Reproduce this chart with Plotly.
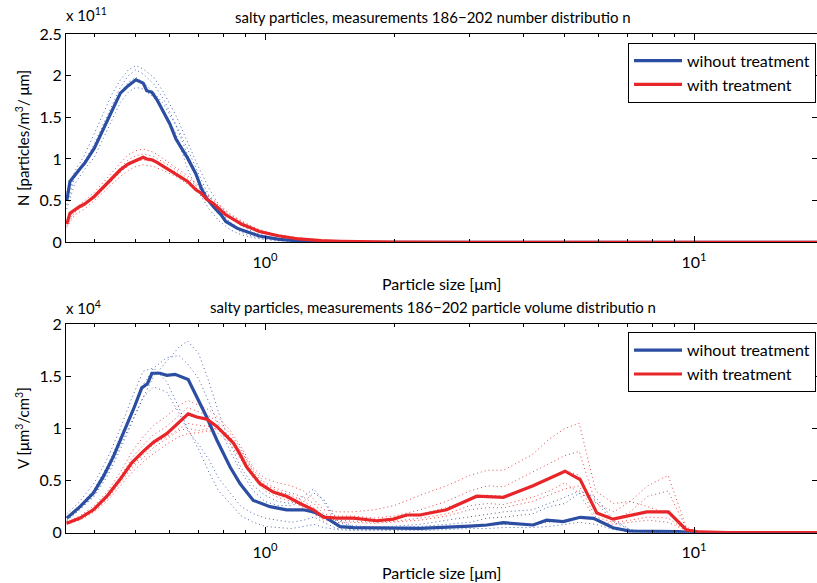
import math
import plotly.graph_objects as go

# ---------------- data ----------------
# Top panel: number distribution (values in units of 1e11 particles/m^3/um)
x_n = [0.345, 0.351, 0.37, 0.38, 0.40, 0.42, 0.44, 0.46, 0.48, 0.50, 0.52, 0.53, 0.545,
       0.56, 0.58, 0.60, 0.62, 0.66, 0.69, 0.71, 0.73, 0.76, 0.79, 0.81, 0.86, 0.88,
       0.97, 1.08, 1.2, 1.35, 1.5, 2, 3, 5, 8, 12, 20]
n_without = [0.50, 0.73, 0.88, 0.95, 1.13, 1.37, 1.58, 1.79, 1.88, 1.95, 1.91, 1.82, 1.80,
             1.71, 1.56, 1.42, 1.24, 1.01, 0.82, 0.65, 0.53, 0.42, 0.33, 0.25, 0.17, 0.15,
             0.076, 0.036, 0.016, 0.004, 0.0, 0, 0, 0, 0, 0, 0]
n_with = [0.22, 0.35, 0.43, 0.46, 0.55, 0.66, 0.76, 0.87, 0.94, 0.98, 1.02, 1.00, 0.99,
          0.96, 0.91, 0.86, 0.82, 0.73, 0.63, 0.59, 0.52, 0.46, 0.38, 0.33, 0.25, 0.22,
          0.13, 0.076, 0.04, 0.02, 0.012, 0.003, 0, 0, 0, 0, 0]

x_nd = [0.345, 0.36, 0.38, 0.40, 0.42, 0.44, 0.46, 0.48, 0.50, 0.52, 0.55, 0.58, 0.62,
        0.66, 0.70, 0.74, 0.78, 0.83, 0.88, 0.95, 1.05, 1.2, 1.4, 1.8, 3, 20]
n_without_runs = [
    [0.60, 0.85, 1.05, 1.30, 1.55, 1.78, 1.95, 2.07, 2.12, 2.08, 1.98, 1.80, 1.52, 1.20, 0.90, 0.65, 0.45, 0.30, 0.20, 0.11, 0.05, 0.02, 0.005, 0, 0, 0],
    [0.45, 0.78, 0.98, 1.18, 1.42, 1.64, 1.86, 2.00, 2.07, 2.02, 1.90, 1.72, 1.42, 1.12, 0.82, 0.56, 0.38, 0.24, 0.15, 0.08, 0.035, 0.012, 0.003, 0, 0, 0],
    [0.40, 0.70, 0.88, 1.02, 1.25, 1.48, 1.68, 1.80, 1.86, 1.84, 1.74, 1.58, 1.30, 0.88, 0.60, 0.40, 0.26, 0.15, 0.09, 0.05, 0.02, 0.008, 0.002, 0, 0, 0],
    [0.55, 0.80, 0.95, 1.12, 1.36, 1.60, 1.80, 1.92, 1.98, 1.92, 1.80, 1.66, 1.40, 1.05, 0.76, 0.52, 0.34, 0.21, 0.12, 0.06, 0.03, 0.01, 0.003, 0, 0, 0],
]
n_with_runs = [
    [0.25, 0.40, 0.50, 0.60, 0.72, 0.84, 0.95, 1.05, 1.10, 1.12, 1.08, 1.00, 0.90, 0.80, 0.68, 0.56, 0.46, 0.34, 0.26, 0.17, 0.10, 0.05, 0.02, 0.005, 0, 0],
    [0.20, 0.36, 0.44, 0.54, 0.64, 0.74, 0.84, 0.92, 0.97, 0.99, 0.97, 0.92, 0.84, 0.74, 0.63, 0.52, 0.42, 0.31, 0.23, 0.15, 0.09, 0.045, 0.018, 0.004, 0, 0],
    [0.18, 0.33, 0.40, 0.50, 0.60, 0.70, 0.79, 0.86, 0.91, 0.93, 0.91, 0.86, 0.79, 0.70, 0.60, 0.50, 0.40, 0.30, 0.22, 0.14, 0.08, 0.04, 0.015, 0.003, 0, 0],
    [0.22, 0.38, 0.47, 0.57, 0.68, 0.79, 0.90, 0.99, 1.04, 1.06, 1.03, 0.96, 0.87, 0.77, 0.65, 0.54, 0.44, 0.33, 0.25, 0.16, 0.10, 0.05, 0.02, 0.005, 0, 0],
]

# Bottom panel: volume distribution (values in units of 1e4 um^3/cm^3)
x_v_without = [0.345, 0.3705, 0.398, 0.420, 0.443, 0.467, 0.493, 0.516, 0.532, 0.545, 0.569,
               0.590, 0.617, 0.662, 0.693, 0.731, 0.772, 0.829, 0.875, 0.939, 1.027, 1.123,
               1.228, 1.296, 1.393, 1.496, 1.606, 2.295, 3.005, 3.288, 3.594, 4.215, 4.532,
               4.958, 5.428, 5.829, 6.475, 7.088, 9.26, 9.775, 20]
v_without = [0.14, 0.25, 0.38, 0.54, 0.73, 0.95, 1.18, 1.39, 1.43, 1.53, 1.53,
             1.51, 1.52, 1.47, 1.31, 1.11, 0.89, 0.63, 0.47, 0.31, 0.25, 0.22,
             0.22, 0.20, 0.14, 0.058, 0.048, 0.042, 0.064, 0.074, 0.096, 0.074, 0.12,
             0.106, 0.148, 0.138, 0.048, 0.016, 0.01, 0.0, 0.0]
x_v_with = [0.345, 0.3705, 0.398, 0.428, 0.459, 0.489, 0.520, 0.550, 0.590, 0.634, 0.662,
            0.693, 0.731, 0.772, 0.814, 0.844, 0.875, 0.906, 0.973, 1.045, 1.123, 1.207,
            1.296, 1.367, 1.469, 1.606, 1.821, 1.991, 2.139, 2.295, 2.649, 3.115, 3.594,
            4.215, 5.003, 5.428, 5.934, 6.475, 7.763, 8.715, 9.6, 10.3, 12, 20]
v_with = [0.09, 0.14, 0.22, 0.35, 0.51, 0.67, 0.78, 0.87, 0.95, 1.07, 1.14,
          1.11, 1.09, 1.02, 0.92, 0.86, 0.75, 0.63, 0.47, 0.39, 0.35, 0.28,
          0.22, 0.15, 0.14, 0.14, 0.115, 0.13, 0.17, 0.17, 0.22, 0.35, 0.34,
          0.45, 0.59, 0.51, 0.19, 0.13, 0.20, 0.20, 0.026, 0.007, 0, 0]

x_vd = [0.345, 0.37, 0.40, 0.43, 0.46, 0.49, 0.52, 0.55, 0.59, 0.63, 0.66, 0.70, 0.74,
        0.78, 0.83, 0.88, 0.94, 1.0, 1.07, 1.15, 1.23, 1.30, 1.37, 1.47, 1.6, 1.8, 2.0,
        2.3, 2.65, 3.0, 3.3, 3.6, 4.2, 4.6, 5.0, 5.4, 5.9, 6.5, 7.1, 7.8, 8.7, 9.6, 10.3,
        12, 20]
v_without_runs = [
    [0.12, 0.22, 0.35, 0.55, 0.80, 1.05, 1.30, 1.50, 1.65, 1.78, 1.84, 1.72, 1.45, 1.15, 0.85, 0.62, 0.45, 0.36, 0.30, 0.28, 0.35, 0.42, 0.30, 0.10, 0.06, 0.05, 0.05, 0.06, 0.08, 0.10, 0.14, 0.15, 0.18, 0.25, 0.28, 0.38, 0.30, 0.10, 0.03, 0.01, 0.005, 0, 0, 0, 0],
    [0.18, 0.30, 0.48, 0.72, 1.00, 1.30, 1.55, 1.58, 1.45, 1.20, 1.00, 0.80, 0.58, 0.40, 0.28, 0.16, 0.10, 0.06, 0.05, 0.04, 0.06, 0.08, 0.05, 0.03, 0.02, 0.02, 0.02, 0.02, 0.03, 0.04, 0.04, 0.05, 0.05, 0.06, 0.08, 0.10, 0.08, 0.03, 0.01, 0.0, 0, 0, 0, 0, 0],
    [0.15, 0.26, 0.42, 0.65, 0.92, 1.18, 1.42, 1.58, 1.68, 1.70, 1.62, 1.48, 1.25, 1.02, 0.78, 0.58, 0.40, 0.30, 0.26, 0.26, 0.30, 0.38, 0.32, 0.12, 0.07, 0.05, 0.06, 0.08, 0.12, 0.15, 0.18, 0.20, 0.22, 0.28, 0.34, 0.40, 0.34, 0.12, 0.03, 0.01, 0, 0, 0, 0, 0],
    [0.11, 0.23, 0.36, 0.58, 0.83, 1.08, 1.30, 1.40, 1.35, 1.15, 0.98, 0.85, 0.70, 0.52, 0.38, 0.25, 0.18, 0.14, 0.12, 0.10, 0.12, 0.15, 0.10, 0.04, 0.03, 0.03, 0.03, 0.04, 0.05, 0.06, 0.07, 0.08, 0.08, 0.10, 0.12, 0.15, 0.12, 0.04, 0.01, 0, 0, 0, 0, 0, 0],
]
v_with_runs = [
    [0.10, 0.16, 0.26, 0.40, 0.58, 0.78, 0.92, 1.03, 1.12, 1.22, 1.27, 1.22, 1.18, 1.10, 0.98, 0.82, 0.62, 0.52, 0.48, 0.45, 0.40, 0.32, 0.22, 0.20, 0.20, 0.22, 0.26, 0.36, 0.45, 0.55, 0.60, 0.60, 0.75, 0.90, 1.00, 1.05, 0.40, 0.28, 0.30, 0.25, 0.18, 0.04, 0.01, 0, 0],
    [0.09, 0.14, 0.22, 0.34, 0.50, 0.64, 0.75, 0.85, 0.92, 1.00, 1.05, 1.03, 1.02, 0.98, 0.90, 0.78, 0.60, 0.48, 0.42, 0.38, 0.34, 0.28, 0.18, 0.16, 0.16, 0.14, 0.16, 0.22, 0.30, 0.40, 0.45, 0.44, 0.58, 0.66, 0.74, 0.78, 0.28, 0.20, 0.30, 0.45, 0.55, 0.05, 0.01, 0, 0],
    [0.08, 0.12, 0.20, 0.31, 0.45, 0.58, 0.68, 0.76, 0.85, 0.92, 0.95, 0.96, 0.98, 0.95, 0.85, 0.70, 0.52, 0.40, 0.34, 0.30, 0.24, 0.18, 0.12, 0.10, 0.10, 0.09, 0.10, 0.12, 0.16, 0.22, 0.24, 0.24, 0.30, 0.36, 0.42, 0.45, 0.15, 0.10, 0.12, 0.15, 0.14, 0.02, 0.005, 0, 0],
    [0.10, 0.15, 0.24, 0.37, 0.54, 0.72, 0.84, 0.94, 1.02, 1.12, 1.20, 1.16, 1.12, 1.06, 0.95, 0.80, 0.58, 0.46, 0.40, 0.36, 0.30, 0.24, 0.16, 0.14, 0.13, 0.12, 0.14, 0.18, 0.24, 0.32, 0.36, 0.35, 0.45, 0.52, 0.60, 0.55, 0.20, 0.12, 0.20, 0.35, 0.40, 0.04, 0.01, 0, 0],
    [0.09, 0.13, 0.21, 0.33, 0.48, 0.62, 0.72, 0.82, 0.90, 0.98, 1.00, 0.98, 1.00, 1.00, 0.92, 0.76, 0.56, 0.44, 0.36, 0.32, 0.26, 0.20, 0.14, 0.12, 0.11, 0.10, 0.11, 0.14, 0.18, 0.26, 0.28, 0.27, 0.34, 0.40, 0.48, 0.38, 0.12, 0.08, 0.10, 0.12, 0.10, 0.02, 0, 0, 0],
]

x_major = [1, 10]
x_major_text = ["10<sup>0</sup>", "10<sup>1</sup>"]
x_minor = [0.4, 0.5, 0.6, 0.7, 0.8, 0.9, 2, 3, 4, 5, 6, 7, 8, 9]
n_ticks = [0, 0.5, 1, 1.5, 2, 2.5]
v_ticks = [0, 0.5, 1, 1.5, 2]

title_n = "salty particles, measurements 186\u2212202 number distributio n"
title_v = "salty particles, measurements 186\u2212202 particle volume distributio n"
label_without = "wihout treatment"
label_with = "with treatment"

# ---------------- styling ----------------
BLUE = "#2b4ea2"
RED = "#e8262a"
FONT = "Lato"
W, H = 817, 583
ML = 66

fig = go.Figure()

def add_panel(xa, ya, xd, runs_b, runs_r, xb, yb, xr_, yr_, legend):
    for r in runs_b:
        fig.add_trace(go.Scatter(x=xd, y=r, mode="lines", xaxis=xa, yaxis=ya,
                                 line=dict(color=BLUE, width=1, dash="1px,3px"),
                                 opacity=0.85, showlegend=False, hoverinfo="skip"))
    for r in runs_r:
        fig.add_trace(go.Scatter(x=xd, y=r, mode="lines", xaxis=xa, yaxis=ya,
                                 line=dict(color=RED, width=1, dash="1px,3px"),
                                 opacity=0.85, showlegend=False, hoverinfo="skip"))
    fig.add_trace(go.Scatter(x=xb, y=yb, mode="lines", xaxis=xa, yaxis=ya,
                             line=dict(color=BLUE, width=3.2), name=label_without,
                             legend=legend))
    fig.add_trace(go.Scatter(x=xr_, y=yr_, mode="lines", xaxis=xa, yaxis=ya,
                             line=dict(color=RED, width=3.2), name=label_with,
                             legend=legend))

add_panel("x", "y", x_nd, n_without_runs, n_with_runs, x_n, n_without, x_n, n_with, "legend")
add_panel("x2", "y2", x_vd, v_without_runs, v_with_runs, x_v_without, v_without,
          x_v_with, v_with, "legend2")

xr = [math.log10(0.3436), math.log10(19.35)]

def xaxis(anchor):
    return dict(type="log", range=xr, domain=[0, 1], anchor=anchor, automargin=False,
                tickmode="array", tickvals=x_major, ticktext=x_major_text,
                ticks="inside", ticklen=6, tickwidth=1, tickcolor="black",
                minor=dict(tickmode="array", tickvals=x_minor, ticks="inside",
                           ticklen=3, tickwidth=1, tickcolor="black", showgrid=False),
                showline=True, linecolor="black", linewidth=1, mirror="allticks",
                showgrid=False, zeroline=False, ticklabelstandoff=5,
                tickfont=dict(family=FONT, size=16, color="black"))

def yaxis(rng, tv, dom, anchor):
    return dict(range=rng, domain=dom, anchor=anchor, automargin=False,
                tickmode="array", tickvals=tv,
                ticktext=[("%g" % v) for v in tv],
                ticks="inside", ticklen=5, tickwidth=1, tickcolor="black",
                showline=True, linecolor="black", linewidth=1, mirror="allticks",
                showgrid=False, zeroline=False,
                tickfont=dict(family=FONT, size=16, color="black"))

def py(px):
    return 1 - px / H

def pxx(px):
    return (px - ML) / (W - ML)

top_dom = [py(242.3), py(34)]
bot_dom = [py(532.7), py(324.3)]

legend_common = dict(bordercolor="black", borderwidth=1, bgcolor="white",
                     font=dict(family=FONT, size=16, color="black"),
                     xanchor="right", yanchor="top", tracegroupgap=0,
                     itemwidth=48)

fig.update_layout(
    template="none",
    width=W, height=H,
    margin=dict(l=ML, r=0, t=0, b=0, autoexpand=False),
    paper_bgcolor="white", plot_bgcolor="white",
    xaxis=xaxis("y"), yaxis=yaxis([0, 2.5], n_ticks, top_dom, "x"),
    xaxis2=xaxis("y2"), yaxis2=yaxis([0, 2], v_ticks, bot_dom, "x2"),
    legend=dict(x=pxx(816), y=py(42.7), **legend_common),
    legend2=dict(x=pxx(816), y=py(332.3), **legend_common),
    font=dict(family=FONT, color="black"),
)

ann = []
def txt(text, x, y, size, xanchor="center", yanchor="middle", angle=0):
    ann.append(dict(text=text, x=x, y=y, xref="paper", yref="paper", showarrow=False,
                    xanchor=xanchor, yanchor=yanchor, textangle=angle,
                    font=dict(family=FONT, size=size, color="black")))

txt(title_n, pxx(433), py(17), 15)
txt(title_v, pxx(433), py(306.5), 15)
txt("Particle size [\u03bcm]", pxx(441), py(283), 16)
txt("Particle size [\u03bcm]", pxx(441), py(572), 16)
txt("N [particles/m<sup>3</sup>/ \u03bcm]", pxx(22), py(138), 15, angle=-90)
txt("V [\u03bcm<sup>3</sup>/cm<sup>3</sup>]", pxx(22), py(428), 15, angle=-90)
txt("x 10<sup>11</sup>", pxx(64), py(26), 15, xanchor="left", yanchor="bottom")
txt("x 10<sup>4</sup>", pxx(64), py(319), 15, xanchor="left", yanchor="bottom")
fig.update_layout(annotations=ann)

fig.write_html("out.html")
